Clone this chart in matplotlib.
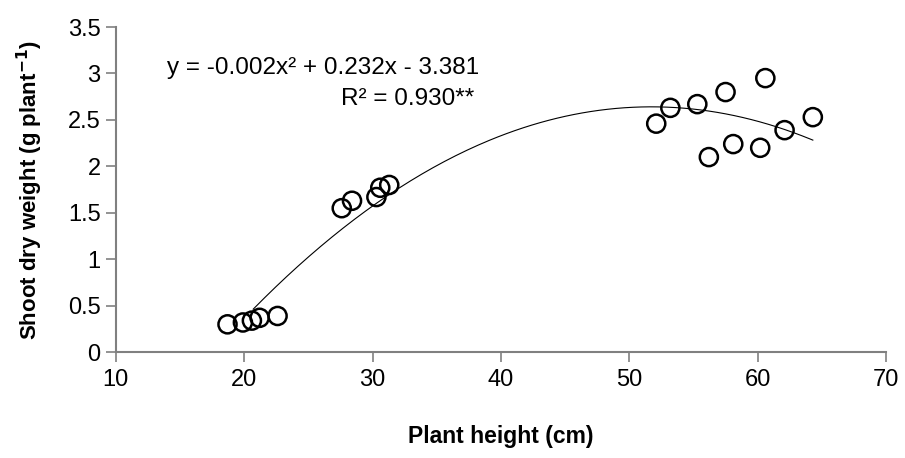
import numpy as np
import matplotlib
matplotlib.use("Agg")
import matplotlib.pyplot as plt

#%% data
height = [18.7, 19.9, 20.6, 21.2, 22.6,
          27.6, 28.4, 30.3, 30.6, 31.3,
          52.1, 53.2, 55.3, 57.5, 60.6, 56.2, 58.1, 60.2, 62.1, 64.3]
weight = [0.30, 0.32, 0.34, 0.37, 0.39,
          1.55, 1.63, 1.67, 1.77, 1.80,
          2.46, 2.63, 2.67, 2.80, 2.95, 2.10, 2.24, 2.20, 2.39, 2.53]

xticks = [10, 20, 30, 40, 50, 60, 70]
yticks = [0, 0.5, 1, 1.5, 2, 2.5, 3, 3.5]
ytick_labels = ['0', '0.5', '1', '1.5', '2', '2.5', '3', '3.5']

eq_text = "y = -0.002x² + 0.232x - 3.381"
r2_text = "R² = 0.930**"

#%% plot
plt.rcParams['font.family'] = ['Liberation Sans', 'DejaVu Sans']
fig = plt.figure(figsize=(9.05, 4.58), dpi=100)
ax = fig.add_axes([0.128, 0.231, 0.851, 0.710])

# quadratic trend line fitted to the points
coef = np.polyfit(height, weight, 2)
xs = np.linspace(min(height) + 2.0, max(height), 200)
ax.plot(xs, np.polyval(coef, xs), color='black', lw=0.8)

ax.scatter(height, weight, s=170, facecolors='none', edgecolors='black',
           linewidths=1.8, zorder=3)

ax.set_xlim(10, 70)
ax.set_ylim(0, 3.5)
ax.set_xticks(xticks)
ax.set_yticks(yticks)
ax.set_yticklabels(ytick_labels)
ax.tick_params(direction='out', length=7, width=1.2, color='#808080',
               labelsize=17)
ax.tick_params(axis='x', pad=5)
ax.tick_params(axis='y', pad=4)

for s in ['top', 'right']:
    ax.spines[s].set_visible(False)
for s in ['left', 'bottom']:
    ax.spines[s].set_color('#808080')
    ax.spines[s].set_linewidth(1.5)

ax.set_xlabel("Plant height (cm)", fontsize=16.5, fontweight='bold')
ax.set_ylabel("Shoot dry weight (g plant$^{\\mathbf{-1}}$)", fontsize=16,
              fontweight='bold')
ax.xaxis.set_label_coords(0.5, -0.225)
ax.yaxis.set_label_coords(-0.092, 0.5)

ax.text(0.067, 0.875, eq_text, transform=ax.transAxes, fontsize=17.5, va='center')
ax.text(0.465, 0.78, r2_text, transform=ax.transAxes, fontsize=17.5,
        va='center', ha='right')

fig.savefig("out.png", dpi=100)
